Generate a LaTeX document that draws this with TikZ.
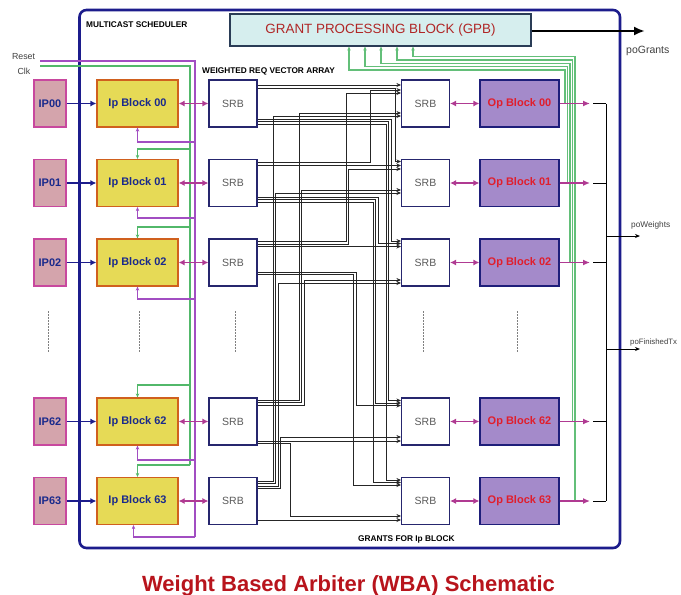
\documentclass[tikz,border=0pt]{standalone}
\usepackage{fontspec}
\setmainfont{Liberation Sans}
\usetikzlibrary{arrows.meta}
\definecolor{frameblue}{HTML}{1C1C8C}
\definecolor{ipfill}{HTML}{D4A4AC}
\definecolor{ipborder}{HTML}{C8489E}
\definecolor{blkfill}{HTML}{E6DA56}
\definecolor{blkborder}{HTML}{D0601E}
\definecolor{blktext}{HTML}{1A2A8C}
\definecolor{srbborder}{HTML}{26266E}
\definecolor{srbtext}{HTML}{5A5A5A}
\definecolor{opfill}{HTML}{A48ACA}
\definecolor{opborder}{HTML}{1E1E7A}
\definecolor{optext}{HTML}{E01E2C}
\definecolor{gpbfill}{HTML}{D6EEEE}
\definecolor{gpbborder}{HTML}{2A3C56}
\definecolor{gpbtext}{HTML}{B02626}
\definecolor{magarrow}{HTML}{B03A92}
\definecolor{rstcol}{HTML}{A24EC2}
\definecolor{clkcol}{HTML}{52B86A}
\definecolor{titlered}{HTML}{B8141C}
\definecolor{labgray}{HTML}{404040}
\newcommand\fsz[1]{\fontsize{#1}{#1}\selectfont}
\newcommand\tapline[5]{\draw[bus] (#1.east |- 0,#2) -| (#3,#4) -- (#5.west |- 0,#4);}
\newcommand\straightline[3]{\draw[bus] (#1.east |- 0,#2) -- (#3.west |- 0,#2);}
\begin{document}
\begin{tikzpicture}[x=1pt,y=-1pt,
  box/.style={minimum height=47pt, inner sep=0pt, line width=1.2pt},
  ipbox/.style={box, draw=ipborder, fill=ipfill, minimum width=32pt, font=\fsz{11}\bfseries, text=blktext},
  blkbox/.style={box, draw=blkborder, fill=blkfill, minimum width=81pt, font=\fsz{11}\bfseries, text=blktext},
  srbbox/.style={box, line width=1.1pt, draw=srbborder, fill=white, minimum width=48pt, font=\fsz{10.5}, text=srbtext},
  opbox/.style={box, draw=opborder, fill=opfill, minimum width=79pt, font=\fsz{11}\bfseries, text=optext},
  gpbbox/.style={draw=gpbborder, fill=gpbfill, line width=1.1pt, minimum width=301pt, minimum height=32pt, inner sep=0pt, font=\fsz{13.4}, text=gpbtext},
  bus/.style={line width=1pt, draw=black!85, -{Stealth[length=4.5pt,width=4pt]}},
  navyarrow/.style={draw=frameblue, line width=1.4pt, -{Latex[length=6pt,width=6pt]}},
  magdouble/.style={draw=magarrow, line width=1.4pt, {Latex[length=6pt,width=6pt]}-{Latex[length=6pt,width=6pt]}},
  magout/.style={draw=magarrow, line width=1.3pt, -{Latex[length=7pt,width=6pt]}},
  rstline/.style={draw=rstcol, line width=1.2pt},
  clkline/.style={draw=clkcol, line width=1.2pt},
  smallhead/.style={-{Stealth[length=4pt,width=3.5pt]}},
  grn/.style={draw=clkcol!90!white, line width=1.3pt, -{Stealth[length=4pt,width=3.5pt]}},
  dotline/.style={draw=gray, line width=0.7pt, dash pattern=on 1.5pt off 1.5pt},
  lab/.style={inner sep=0pt, anchor=base west, text=black, font=\fsz{8.3}\bfseries},
  plab/.style={inner sep=0pt, anchor=base west, text=labgray, font=\fsz{8.3}}
]
\useasboundingbox (0,0) rectangle (681,595);
\fill[white] (0,0) rectangle (681,595);

% outer frame
\draw[frameblue, line width=2.6pt, rounded corners=7pt] (79.5,10) rectangle (620,548);

% labels
\node[lab] (lms) at (86,27) {MULTICAST SCHEDULER};
\node[lab] (lwr) at (202,73) {WEIGHTED REQ VECTOR ARRAY};
\node[lab] (lgr) at (358,541) {GRANTS FOR Ip BLOCK};
\node[inner sep=0pt, anchor=base, text=labgray, font=\fsz{8.8}] (lrst) at (23.5,59) {Reset};
\node[inner sep=0pt, anchor=base, text=labgray, font=\fsz{8.8}] (lclk) at (24,74) {Clk};
\node[inner sep=0pt, anchor=base, text=titlered, font=\fsz{22}\bfseries] (title) at (348.5,591) {Weight Based Arbiter (WBA) Schematic};

% GPB
\node[gpbbox] (gpb) at (380.5,30) {GRANT PROCESSING BLOCK (GPB)};
\coordinate (pog) at (645,31);
\node[plab, font=\fsz{10.5}] (lpog) at (626,53) {poGrants};

% rows
\foreach \n/\y in {00/103.5,01/183,02/262.5,62/421.5,63/501}{
  \node[ipbox] (ip\n) at (50,\y) {IP\n};
  \node[blkbox] (blk\n) at (137.5,\y) {Ip Block \n};
  \node[srbbox] (sl\n) at (233,\y) {SRB};
  \node[srbbox] (sr\n) at (425.5,\y) {SRB};
  \node[opbox] (op\n) at (519.5,\y) {Op Block \n};
  \coordinate (oa\n) at (590,\y);
  \coordinate (ob\n) at (593,\y);
  \coordinate (oc\n) at (606,\y);
}

% reset and clock
\coordinate (rstin) at (40,61);
\coordinate (rstc) at (195,61);
\coordinate (rste) at (195,537);
\coordinate (clkin) at (40,66);
\coordinate (clkc) at (190,66);
\coordinate (clke) at (190,465);
\draw[rstline] (rstin) -- (rstc) -- (rste);
\draw[clkline] (clkin) -- (clkc) -- (clke);
\foreach \n/\yr in {00/142,01/218,02/299,62/460}{
  \coordinate (rt\n) at (195,\yr);
  \draw[rstline, smallhead] (rt\n) -| (blk\n.south);
}
\draw[rstline, smallhead] (rste) -| ([xshift=-4pt]blk63.south);
\foreach \n/\yg in {01/149,02/227,62/385}{
  \coordinate (ct\n) at (190,\yg);
  \draw[clkline, smallhead] (ct\n) -| (blk\n.north);
}
\draw[clkline, smallhead] (clke) -| (blk63.north);

% green grant lines to GPB
\foreach \n/\xl/\yh/\xr in {00/349/70/565, 01/365/66.7/567.5, 02/381/63.4/570, 62/397/60.1/572.5, 63/413/56.8/575}{
  \draw[grn] (op\n.east -| \xr,0) |- (\xl,\yh) -- (gpb.south -| \xl,0);
}

% row arrows
\foreach \n in {00,01,02,62,63}{
  \draw[navyarrow] (ip\n) -- (blk\n);
  \draw[magdouble] (blk\n) -- (sl\n);
  \draw[magdouble] (sr\n) -- (op\n);
  \draw[magout] (op\n.east) -- (oa\n);
  \draw[black, line width=1pt] (ob\n) -- (oc\n);
}
\draw[black, line width=1pt] (oc00) -- (oc63);
\coordinate (wsrc) at (606,236);
\coordinate (wdst) at (640,236);
\coordinate (fsrc) at (606,349);
\coordinate (fdst) at (640,349);
\draw[black, line width=0.9pt, -{Stealth[length=5pt,width=4pt]}] (wsrc) -- (wdst);
\draw[black, line width=0.9pt, -{Stealth[length=5pt,width=4pt]}] (fsrc) -- (fdst);
\node[plab] (lpw) at (631,227) {poWeights};
\node[plab, font=\fsz{7.8}] (lpf) at (630,344) {poFinishedTx};

% grants output
\draw[black, line width=2.6pt, -{Latex[length=11pt,width=9pt]}] (gpb.east |- pog) -- (pog);

% crossbar of SRB buses
% L00
\straightline{sl00}{85}{sr00}
\tapline{sl00}{88}{395}{161.5}{sr01}
\tapline{sl00}{119}{391}{241}{sr02}
\tapline{sl00}{121.5}{388.5}{400.5}{sr62}
\tapline{sl00}{124}{386}{480}{sr63}
% L01
\tapline{sl01}{162.5}{370}{90}{sr00}
\straightline{sl01}{165.5}{sr01}
\tapline{sl01}{197}{378}{243.5}{sr02}
\tapline{sl01}{199.5}{375.5}{403}{sr62}
\tapline{sl01}{202}{373}{482.5}{sr63}
% L02
\tapline{sl02}{241.5}{346}{93}{sr00}
\tapline{sl02}{244}{348.5}{169}{sr01}
\straightline{sl02}{246.5}{sr02}
\tapline{sl02}{272}{356}{405.5}{sr62}
\tapline{sl02}{274.5}{353.5}{485}{sr63}
% L62
\tapline{sl62}{400}{299}{113}{sr00}
\tapline{sl62}{402.5}{301.5}{190}{sr01}
\tapline{sl62}{405}{304}{280}{sr02}
\straightline{sl62}{441}{sr62}
\tapline{sl62}{443.5}{290}{516}{sr63}
% L63
\tapline{sl63}{481}{273}{116}{sr00}
\tapline{sl63}{483.5}{275.5}{193}{sr01}
\tapline{sl63}{486}{278}{283}{sr02}
\tapline{sl63}{488.5}{280.5}{437}{sr62}
\straightline{sl63}{520}{sr63}

% ellipsis dots
\foreach \xx in {48,139,235,423,517}{
  \draw[dotline] (\xx,311) -- (\xx,352);
}
\end{tikzpicture}
\end{document}
